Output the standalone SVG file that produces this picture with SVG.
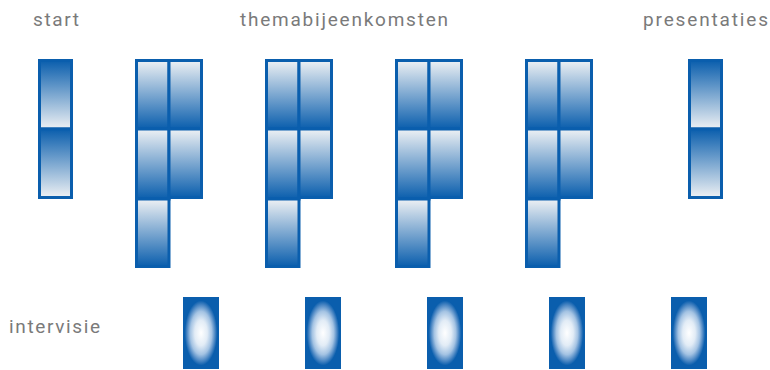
<svg xmlns="http://www.w3.org/2000/svg" width="770" height="370" viewBox="0 0 770 370">
<defs>
<linearGradient id="gDown" x1="0" y1="0" x2="0" y2="1">
<stop offset="0" stop-color="#0a5ead"/>
<stop offset="1" stop-color="#eef1f4"/>
</linearGradient>
<linearGradient id="gUp" x1="0" y1="0" x2="0" y2="1">
<stop offset="0" stop-color="#eef1f4"/>
<stop offset="1" stop-color="#0a5ead"/>
</linearGradient>
<radialGradient id="gGlow" cx="0.5" cy="0.5" r="0.5">
<stop offset="0" stop-color="#ffffff"/>
<stop offset="0.35" stop-color="#e2ecf6"/>
<stop offset="0.6" stop-color="#a4c3e3"/>
<stop offset="0.78" stop-color="#4a86c3"/>
<stop offset="0.9" stop-color="#0a5ead"/>
<stop offset="1" stop-color="#0a5ead"/>
</radialGradient>
</defs>
<style>
.lbl{font-family:Roboto,"Liberation Sans",sans-serif;font-size:19px;fill:#7a7a7a}
.d{fill:url(#gDown);stroke:#0a5ead;stroke-width:3}
.u{fill:url(#gUp);stroke:#0a5ead;stroke-width:3}
.iv{fill:url(#gGlow)}
</style>
<g id="labels">
<text class="lbl" x="33" y="26" textLength="46" lengthAdjust="spacing">start</text>
<text class="lbl" x="240" y="26" textLength="208" lengthAdjust="spacing">themabijeenkomsten</text>
<text class="lbl" x="643" y="26" textLength="125" lengthAdjust="spacing">presentaties</text>
<text class="lbl" x="9" y="333" textLength="91" lengthAdjust="spacing">intervisie</text>
</g>
<g id="start">
<rect class="d" x="39.5" y="60.5" width="32" height="68.5"/>
<rect class="d" x="39.5" y="129" width="32" height="68.5"/>
</g>
<g id="thema1">
<rect class="u" x="136.5" y="60.5" width="32.5" height="68.5"/>
<rect class="u" x="169" y="60.5" width="32.5" height="68.5"/>
<rect class="u" x="136.5" y="129" width="32.5" height="70"/>
<rect class="u" x="169" y="129" width="32.5" height="68.5"/>
<rect class="u" x="136.5" y="199" width="32.5" height="67.5"/>
</g>
<g id="thema2">
<rect class="u" x="266.5" y="60.5" width="32.5" height="68.5"/>
<rect class="u" x="299" y="60.5" width="32.5" height="68.5"/>
<rect class="u" x="266.5" y="129" width="32.5" height="70"/>
<rect class="u" x="299" y="129" width="32.5" height="68.5"/>
<rect class="u" x="266.5" y="199" width="32.5" height="67.5"/>
</g>
<g id="thema3">
<rect class="u" x="396.5" y="60.5" width="32.5" height="68.5"/>
<rect class="u" x="429" y="60.5" width="32.5" height="68.5"/>
<rect class="u" x="396.5" y="129" width="32.5" height="70"/>
<rect class="u" x="429" y="129" width="32.5" height="68.5"/>
<rect class="u" x="396.5" y="199" width="32.5" height="67.5"/>
</g>
<g id="thema4">
<rect class="u" x="526.5" y="60.5" width="32.5" height="68.5"/>
<rect class="u" x="559" y="60.5" width="32.5" height="68.5"/>
<rect class="u" x="526.5" y="129" width="32.5" height="70"/>
<rect class="u" x="559" y="129" width="32.5" height="68.5"/>
<rect class="u" x="526.5" y="199" width="32.5" height="67.5"/>
</g>
<g id="presentaties">
<rect class="d" x="689.5" y="60.5" width="32" height="68.5"/>
<rect class="d" x="689.5" y="129" width="32" height="68.5"/>
</g>
<g id="intervisie1"><rect class="iv" x="183" y="297" width="36" height="72"/></g>
<g id="intervisie2"><rect class="iv" x="305" y="297" width="36" height="72"/></g>
<g id="intervisie3"><rect class="iv" x="427" y="297" width="36" height="72"/></g>
<g id="intervisie4"><rect class="iv" x="549" y="297" width="36" height="72"/></g>
<g id="intervisie5"><rect class="iv" x="671" y="297" width="36" height="72"/></g>
<g id="connectors"/>
</svg>
